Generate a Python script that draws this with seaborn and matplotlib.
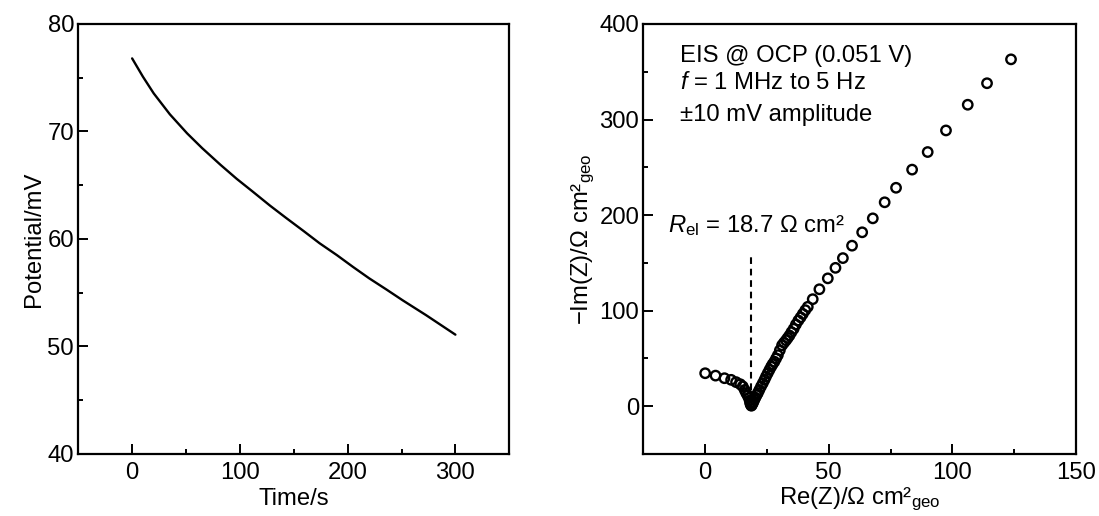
import numpy as np
import pandas as pd
import matplotlib
matplotlib.use("Agg")
import matplotlib.pyplot as plt
import seaborn as sns

# ---- data: potential vs time ----
time_s = [0, 10, 20, 35, 51, 65, 82, 97, 112, 128, 143, 159, 174, 190, 205, 220, 236, 251, 273, 294, 300]
potential_mV = [76.8, 75.1, 73.55, 71.6, 69.83, 68.45, 66.9, 65.6, 64.4, 63.1, 61.95, 60.75, 59.6, 58.5,
                57.4, 56.34, 55.3, 54.3, 52.9, 51.5, 51.1]

# ---- data: EIS Nyquist ----
re_z = [0.0, 4.2, 7.8, 10.5, 12.5, 14.2, 15.2, 16.0, 16.6, 17.2, 17.7, 18.0, 18.2, 18.4, 18.6, 18.7,
        18.9, 19.2, 19.5, 19.9, 20.3, 20.8, 21.3, 21.9, 22.6, 23.3, 24.0, 24.6, 25.3, 26.0, 26.7,
        27.3, 28.0, 28.7, 29.4, 30.2, 31.1, 31.9, 32.7, 33.4, 34.1, 34.9, 35.8, 36.7, 37.7, 38.6,
        39.5, 40.5, 41.5, 43.5, 46.2, 49.6, 52.7, 55.7, 59.4, 63.5, 67.8, 72.6, 77.2, 83.7, 90.0,
        97.4, 106.2, 114.0, 123.7]
im_z = [34.5, 32.0, 29.3, 27.6, 25.2, 23.0, 20.7, 17.0, 13.8, 11.0, 8.6, 6.0, 3.4, 2.0, 1.0, 0.5,
        1.5, 3.0, 4.5, 6.9, 9.0, 11.5, 13.8, 17.0, 20.7, 24.0, 27.6, 31.0, 34.5, 38.0, 41.4,
        44.0, 46.6, 50.0, 53.4, 58.5, 63.8, 66.5, 69.0, 71.5, 74.0, 77.5, 81.0, 85.5, 89.7, 93.0,
        96.6, 100.5, 104.0, 112.0, 122.4, 133.8, 144.8, 155.0, 168.0, 182.0, 196.6, 213.4, 228.6,
        247.6, 266.0, 288.6, 315.5, 338.0, 363.0]

r_el = 18.7
dash_y = [17, 160]

sns.set_theme(style="ticks")
plt.rcParams['font.family'] = ['Liberation Sans', 'DejaVu Sans']
plt.rcParams['mathtext.fontset'] = 'custom'
plt.rcParams['mathtext.rm'] = 'Liberation Sans'
plt.rcParams['mathtext.it'] = 'Liberation Sans:italic'

FS = 17.2
fig = plt.figure(figsize=(10.99, 5.16), dpi=100)
ax1 = fig.add_axes([0.0712, 0.1202, 0.3922, 0.8333])
ax2 = fig.add_axes([0.5854, 0.1202, 0.3937, 0.8333])

df1 = pd.DataFrame({"t": time_s, "p": potential_mV})
sns.lineplot(data=df1, x="t", y="p", ax=ax1, color="black", linewidth=1.7)

df2 = pd.DataFrame({"re": re_z, "im": im_z})
sns.scatterplot(data=df2, x="re", y="im", ax=ax2, s=46, facecolor="none",
                edgecolor="black", linewidth=1.7, marker="o", zorder=3)
ax2.plot([r_el, r_el], dash_y, color="black", linestyle=(0, (3.2, 2.3)), linewidth=1.5)

for ax in (ax1, ax2):
    for sp in ax.spines.values():
        sp.set_linewidth(1.6)
        sp.set_color("black")
    ax.tick_params(which="both", direction="in", top=False, right=False, color="black",
                   labelsize=FS, labelcolor="black")
    ax.tick_params(which="major", length=7, width=1.4)
    ax.tick_params(which="minor", length=3.5, width=1.4)
    ax.tick_params(axis="x", pad=6)
    ax.tick_params(axis="y", pad=3)

ax1.set_xlim(-50, 350)
ax1.set_ylim(40, 80)
ax1.set_xticks([0, 100, 200, 300])
ax1.set_xticks([50, 150, 250], minor=True)
ax1.set_yticks([40, 50, 60, 70, 80])
ax1.set_yticks([45, 55, 65, 75], minor=True)
ax1.set_xlabel("Time/s", fontsize=FS, color="black", labelpad=3)
ax1.set_ylabel("Potential/mV", fontsize=FS, color="black", labelpad=2)

ax2.set_xlim(-25, 150)
ax2.set_ylim(-50, 400)
ax2.set_xticks([0, 50, 100, 150])
ax2.set_xticks([25, 75, 125], minor=True)
ax2.set_yticks([0, 100, 200, 300, 400])
ax2.set_yticks([50, 150, 250, 350], minor=True)
ax2.set_xlabel("Re(Z)/Ω cm²$_{\\mathregular{geo}}$", fontsize=FS, color="black", labelpad=1)
ax2.set_ylabel("\u2212Im(Z)/Ω cm²$_{\\mathregular{geo}}$", fontsize=FS, color="black", labelpad=2)

ax2.text(-10.1, 360.5, "EIS @ OCP (0.051 V)", fontsize=FS, va="baseline", ha="left", color="black")
ax2.text(-10.1, 331.6, "$\\mathit{f}$ = 1 MHz to 5 Hz", fontsize=FS, va="baseline", ha="left", color="black")
ax2.text(-10.1, 298.8, "\u00b110 mV amplitude", fontsize=FS, va="baseline", ha="left", color="black")
ax2.text(-15.0, 182.6, "$\\mathit{R}_{\\mathregular{el}}$ = 18.7 Ω cm²", fontsize=FS, va="baseline",
         ha="left", color="black")

fig.savefig("out.png", dpi=100)
